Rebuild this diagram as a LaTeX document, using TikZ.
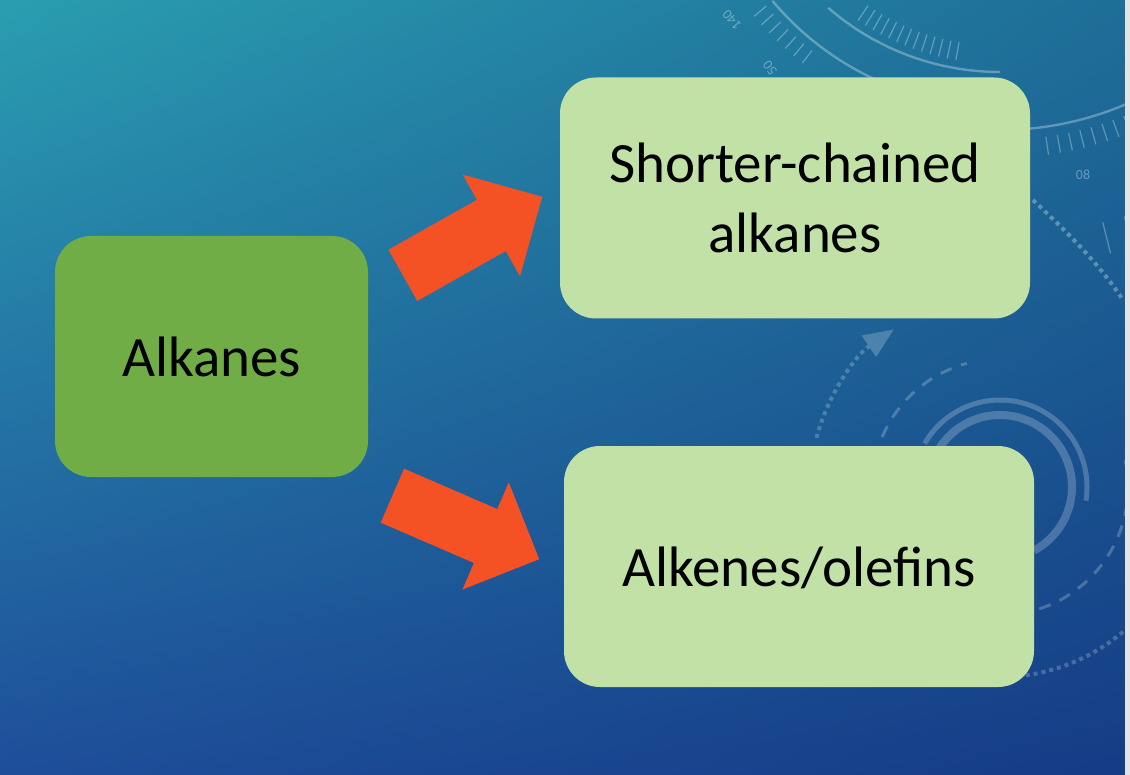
\documentclass[tikz,border=0pt]{standalone}
\usepackage{fontspec}
\setmainfont{Carlito}
\usetikzlibrary{shapes.arrows,arrows.meta,shadings}
\definecolor{slidetl}{HTML}{2A9EB0}
\definecolor{slidetr}{HTML}{1E6E98}
\definecolor{slidebl}{HTML}{1E4E9A}
\definecolor{slidebr}{HTML}{153C86}
\definecolor{stripgrey}{HTML}{E4E4E4}
\definecolor{leafgreen}{HTML}{70AD47}
\definecolor{palegreen}{HTML}{C2E1A6}
\definecolor{arrowred}{HTML}{F45124}
\tikzstyle{box}=[rectangle, rounded corners=18pt, inner sep=0pt, align=center, text depth=0pt, font=\fontsize{28.5}{35}\selectfont]
\tikzstyle{sourcebox}=[box, fill=leafgreen, minimum width=156.5pt, minimum height=120.5pt]
\tikzstyle{productbox}=[box, fill=palegreen, minimum width=235pt, minimum height=120.5pt]
\tikzstyle{fatarrow}=[single arrow, fill=arrowred, inner xsep=0pt, inner ysep=14.5pt, minimum height=80pt, single arrow head extend=14.5pt, single arrow head indent=0pt]
\tikzstyle{dial}=[draw=white, draw opacity=0.3, line width=1.2pt]
\tikzstyle{ring}=[draw=white, draw opacity=0.22, fill opacity=0.22, line width=2.5pt]
\tikzstyle{dialtext}=[text=white, text opacity=0.35, inner sep=0pt, font=\fontsize{7}{8}\selectfont]

\begin{document}
\begin{tikzpicture}[x=0.5pt, y=-0.5pt]
    \useasboundingbox (0,0) rectangle (1130,775);
    \shade[upper left=slidetl, upper right=slidetr, lower left=slidebl, lower right=slidebr] (0,0) rectangle (1125,775);

    \draw[dial] (1000,-190) ++(140:297) arc[start angle=140, end angle=95, radius=297];
    \draw[dial] (1000,-190) ++(131:262) arc[start angle=131, end angle=90, radius=262];
    \draw[dial] (1000,-190) ++(85:320) arc[start angle=85, end angle=62, radius=320];
    \foreach \a in {128,130,...,140} \draw[dial, line width=0.6pt] (1000,-190) ++(\a:305) -- ++(\a:16);
    \foreach \a in {100,102,...,124} \draw[dial, line width=0.6pt] (1000,-190) ++(\a:236) -- ++(\a:18);
    \foreach \a in {66,68,...,82} \draw[dial, line width=0.6pt] (1000,-190) ++(\a:330) -- ++(\a:18);
    \foreach \a in {64,67,...,76} \draw[dial, line width=0.6pt] (1000,-190) ++(\a:425) -- ++(\a:32);
    \draw[dial, line width=2pt, dash pattern=on 2pt off 2pt] (1033,200) .. controls (1070,235) and (1100,265) .. (1123,300);
    \node[dialtext, rotate=130] (n140) at (732,20) {140};
    \node[dialtext, rotate=125] (n50) at (770,68) {50};
    \node[dialtext] (n08) at (1083,175) {08};

    \draw[ring] (1000,487) ++(-150:87) arc[start angle=-150, end angle=9, radius=87];
    \draw[ring, line width=4pt] (1000,487) ++(-165:72) arc[start angle=-165, end angle=62, radius=72];
    \draw[ring, line width=1.5pt, dash pattern=on 6pt off 5pt] (1000,487) ++(-157:128) arc[start angle=-157, end angle=-105, radius=128];
    \draw[ring, line width=1.5pt, dash pattern=on 6pt off 5pt] (1000,487) ++(-12:128) arc[start angle=-12, end angle=78, radius=128];
    \draw[ring, line width=2pt, dash pattern=on 2pt off 2pt, -{Triangle[length=15pt, width=13pt, line width=0pt]}] (1000,487) ++(-165:190) arc[start angle=-165, end angle=-124, radius=190];
    \draw[ring, line width=2pt, dash pattern=on 2pt off 2pt] (1000,487) ++(40:190) arc[start angle=40, end angle=84, radius=190];

    \fill[stripgrey] (1125,0) rectangle (1130,775);

    \node[sourcebox] (alkanes) at (211.5,356.5) {Alkanes};
    \node[productbox] (shorter) at (795,198) {Shorter-chained\\alkanes};
    \node[productbox] (alkenes) at (799,566.5) {Alkenes/olefins};

    \node[fatarrow, rotate=29.4, anchor=tail] (up) at (402.5,275.5) {};
    \node[fatarrow, rotate=-23.4, anchor=tail] (down) at (392,495.5) {};
\end{tikzpicture}
\end{document}
